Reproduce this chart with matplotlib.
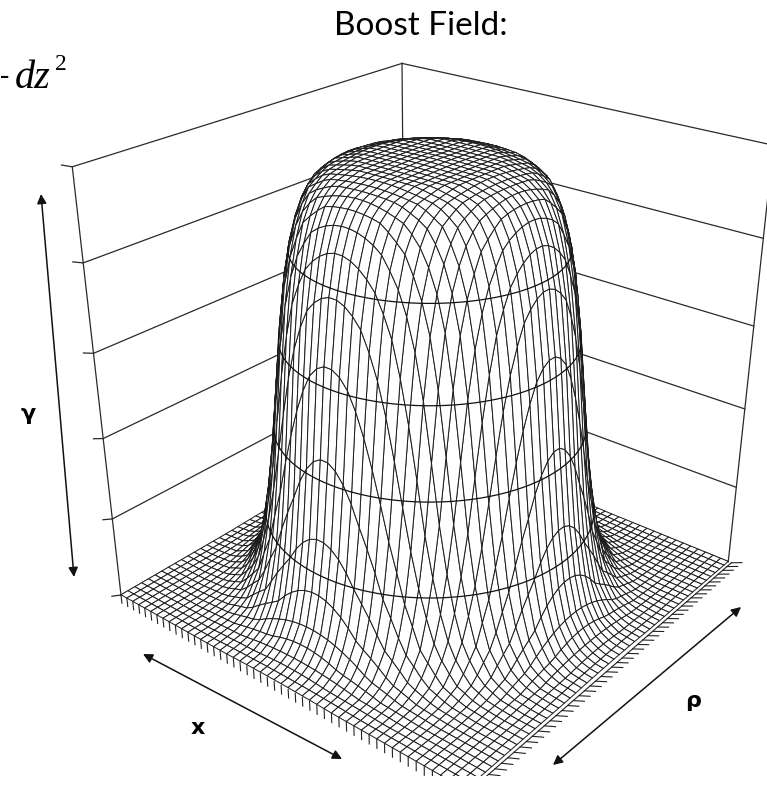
import numpy as np
import matplotlib
matplotlib.use("Agg")
import matplotlib.pyplot as plt

# radial profile of the boost field (grid units -> gamma level)
radius = [0.00, 0.30, 0.42, 0.49, 0.54, 0.58, 0.61, 0.64, 0.67, 0.70, 0.74, 0.79, 0.86, 0.94, 1.05, 1.60]
gamma = [4.96, 4.94, 4.86, 4.72, 4.48, 4.12, 3.72, 3.12, 2.36, 1.63, 0.94, 0.43, 0.14, 0.04, 0.01, 0.00]
wall_levels = [0, 1, 2, 3, 4, 5]
ring_levels = [1.00, 2.04, 3.05, 4.05]
n_grid = 50
title = "Boost Field:"
axis_labels = ["γ", "x", "ρ"]

W, H = 767, 788
fig = plt.figure(figsize=(W / 100, H / 100), dpi=100)
ax = fig.add_axes([0.047, 0.002, 1, 1], projection="3d", computed_zorder=False)
AZIM = -50.5
ax.view_init(elev=27, azim=AZIM)
ax.set_proj_type("persp", focal_length=0.36)
ax.set_box_aspect((1, 1, 1.02), zoom=1.02)
ax.set_xlim(-1, 1)
ax.set_ylim(-1, 1)
ax.set_zlim(0, 5)
ax.set_axis_off()

# walls
wall_col = "#2a2a2a"
for z in wall_levels:
    ax.plot([-1, -1], [-1, 1], [z, z], color=wall_col, lw=0.9, zorder=1)
    ax.plot([-1, 1], [1, 1], [z, z], color=wall_col, lw=0.9, zorder=1)
    ax.plot([-1, -1], [-1, -1.05], [z, z + 0.05], color=wall_col, lw=0.9, zorder=1)
for cx, cy in [(-1, -1), (-1, 1), (1, 1)]:
    ax.plot([cx, cx], [cy, cy], [0, 5], color=wall_col, lw=0.9, zorder=1)

# surface, white faces give the hidden line look
xs = np.linspace(-1, 1, n_grid)
ys = np.linspace(-1, 1, n_grid)
X, Y = np.meshgrid(xs, ys)
Z = np.interp(np.hypot(X, Y), radius, gamma)
ax.plot_surface(X, Y, Z, rstride=1, cstride=1, color="white", edgecolor="#1c1c1c",
                linewidth=0.7, shade=False, antialiased=True, zorder=2)

# band lines on the near side of the hat
theta = np.radians(np.linspace(AZIM - 90, AZIM + 90, 120))
for lev in ring_levels:
    rr = np.interp(lev, gamma[::-1], radius[::-1])
    ax.plot(rr * np.cos(theta), rr * np.sin(theta), lev, color="#111111", lw=0.9, zorder=3)

# skirt: vertical ticks under the x edge, flat ones off the rho edge
ax.plot([1.016, 1.016], [-1, 1], [0, 0], color="#222222", lw=0.8, zorder=3)
for v in xs:
    ax.plot([v, v], [-1, -1], [0, -0.11], color="#222222", lw=0.8, zorder=3)
    ax.plot([1.016, 1.07], [v, v], [0, 0.06], color="#222222", lw=0.8, zorder=3)


def px(x, y):
    return x / W, 1 - y / H


# double headed arrows, figure coordinates
for p0, p1 in [((41, 194), (74, 577)), ((143, 654), (342, 759)), ((553, 765), (741, 607))]:
    ax.annotate("", xy=px(*p1), xytext=px(*p0), xycoords="figure fraction",
                textcoords="figure fraction",
                arrowprops=dict(arrowstyle="<|-|>", color="#111111", lw=1.1,
                                mutation_scale=14, shrinkA=0, shrinkB=0))

for lab, (lx, ly) in zip(axis_labels, [(28, 414), (198, 728), (693, 701)]):
    fig.text(*px(lx, ly), lab, fontsize=16, fontweight="bold", ha="center", va="center",
             family="DejaVu Sans")

fig.text(*px(421, 26), title, fontsize=24, family="Lato", ha="center", va="center", color="black")
fig.text(*px(0, 83), "-", fontsize=20, family="Liberation Serif", ha="left", va="baseline")
fig.text(*px(15, 88), "dz", fontsize=29, family="Liberation Serif", style="italic", ha="left", va="baseline")
fig.text(*px(55, 70), "2", fontsize=17, family="Liberation Serif", ha="left", va="baseline")

fig.savefig("out.png", dpi=100)
